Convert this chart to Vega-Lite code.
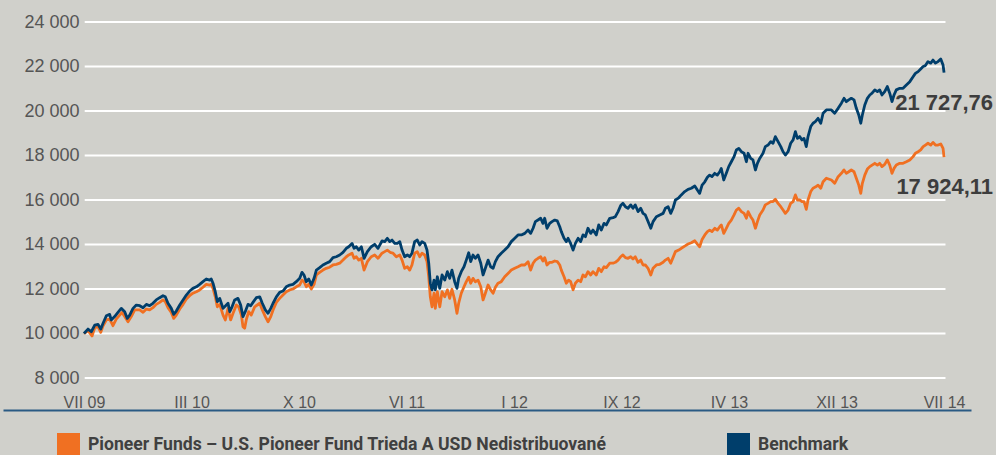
{
"$schema": "https://vega.github.io/schema/vega-lite/v6.json",
"width": 968, "height": 388,
"autosize": {"type": "none"},
"padding": {"left": 3, "top": 22, "right": 25, "bottom": 45},
"background": "#d0d0cb",
"config": {"view": {"stroke": null}, "font": "Liberation Sans"},
"datasets": {
"grid": [{"g":8000},{"g":10000},{"g":12000},{"g":14000},{"g":16000},{"g":18000},{"g":20000},{"g":22000},{"g":24000}],
"lines": [
{"m":0,"v":10000,"s":"F"},{"m":0.28,"v":10130,"s":"F"},{"m":0.56,"v":9890,"s":"F"},{"m":0.75,"v":10260,"s":"F"},{"m":0.98,"v":10310,"s":"F"},{"m":1.17,"v":10055,"s":"F"},{"m":1.33,"v":10350,"s":"F"},{"m":1.56,"v":10610,"s":"F"},{"m":1.79,"v":10650,"s":"F"},{"m":2.02,"v":10350,"s":"F"},{"m":2.25,"v":10650,"s":"F"},{"m":2.49,"v":10830,"s":"F"},{"m":2.65,"v":10950,"s":"F"},{"m":2.84,"v":10760,"s":"F"},{"m":3.07,"v":10530,"s":"F"},{"m":3.30,"v":10760,"s":"F"},{"m":3.54,"v":11060,"s":"F"},{"m":3.89,"v":11060,"s":"F"},{"m":4.12,"v":10950,"s":"F"},{"m":4.35,"v":11100,"s":"F"},{"m":4.58,"v":11060,"s":"F"},{"m":4.81,"v":11160,"s":"F"},{"m":5.04,"v":11310,"s":"F"},{"m":5.28,"v":11400,"s":"F"},{"m":5.51,"v":11510,"s":"F"},{"m":5.67,"v":11430,"s":"F"},{"m":5.86,"v":11160,"s":"F"},{"m":6.09,"v":10950,"s":"F"},{"m":6.26,"v":10680,"s":"F"},{"m":6.44,"v":10830,"s":"F"},{"m":6.68,"v":11100,"s":"F"},{"m":6.91,"v":11310,"s":"F"},{"m":7.14,"v":11550,"s":"F"},{"m":7.37,"v":11700,"s":"F"},{"m":7.60,"v":11810,"s":"F"},{"m":7.84,"v":11880,"s":"F"},{"m":8.07,"v":11960,"s":"F"},{"m":8.30,"v":12080,"s":"F"},{"m":8.53,"v":12210,"s":"F"},{"m":8.77,"v":12180,"s":"F"},{"m":8.88,"v":12210,"s":"F"},{"m":9.00,"v":12030,"s":"F"},{"m":9.16,"v":11650,"s":"F"},{"m":9.30,"v":11200,"s":"F"},{"m":9.47,"v":11310,"s":"F"},{"m":9.70,"v":10830,"s":"F"},{"m":9.86,"v":10610,"s":"F"},
{"m":10.05,"v":11130,"s":"F"},{"m":10.23,"v":10610,"s":"F"},{"m":10.40,"v":10910,"s":"F"},{"m":10.63,"v":11280,"s":"F"},{"m":10.79,"v":11200,"s":"F"},{"m":10.98,"v":10830,"s":"F"},{"m":11.09,"v":10310,"s":"F"},{"m":11.21,"v":10240,"s":"F"},{"m":11.32,"v":10610,"s":"F"},{"m":11.49,"v":10980,"s":"F"},{"m":11.67,"v":10830,"s":"F"},{"m":11.91,"v":11200,"s":"F"},{"m":12.26,"v":11360,"s":"F"},{"m":12.44,"v":11060,"s":"F"},{"m":12.65,"v":10760,"s":"F"},{"m":12.84,"v":10530,"s":"F"},{"m":13.03,"v":10760,"s":"F"},{"m":13.19,"v":11060,"s":"F"},{"m":13.42,"v":11400,"s":"F"},{"m":13.65,"v":11580,"s":"F"},{"m":13.88,"v":11730,"s":"F"},{"m":14.11,"v":11880,"s":"F"},{"m":14.35,"v":11960,"s":"F"},{"m":14.58,"v":12000,"s":"F"},{"m":14.81,"v":12100,"s":"F"},{"m":15.05,"v":12180,"s":"F"},{"m":15.21,"v":12400,"s":"F"},{"m":15.35,"v":12330,"s":"F"},{"m":15.51,"v":12100,"s":"F"},{"m":15.68,"v":12210,"s":"F"},{"m":15.86,"v":12000,"s":"F"},{"m":16.05,"v":12210,"s":"F"},{"m":16.21,"v":12630,"s":"F"},{"m":16.44,"v":12750,"s":"F"},{"m":16.67,"v":12850,"s":"F"},{"m":16.90,"v":12930,"s":"F"},{"m":17.14,"v":12980,"s":"F"},{"m":17.37,"v":13080,"s":"F"},{"m":17.60,"v":13110,"s":"F"},{"m":17.84,"v":13160,"s":"F"},{"m":18.07,"v":13300,"s":"F"},{"m":18.30,"v":13450,"s":"F"},{"m":18.47,"v":13530,"s":"F"},{"m":18.70,"v":13610,"s":"F"},{"m":18.84,"v":13380,"s":"F"},{"m":19.00,"v":13450,"s":"F"},{"m":19.17,"v":13300,"s":"F"},{"m":19.35,"v":13380,"s":"F"},{"m":19.54,"v":12850,"s":"F"},{"m":19.77,"v":13230,"s":"F"},{"m":20.04,"v":13450,"s":"F"},{"m":20.28,"v":13530,"s":"F"},{"m":20.51,"v":13380,"s":"F"},{"m":20.79,"v":13610,"s":"F"},
{"m":20.98,"v":13680,"s":"F"},{"m":21.16,"v":13750,"s":"F"},{"m":21.40,"v":13630,"s":"F"},{"m":21.56,"v":13610,"s":"F"},{"m":21.79,"v":13450,"s":"F"},{"m":22.03,"v":13530,"s":"F"},{"m":22.19,"v":13300,"s":"F"},{"m":22.37,"v":12930,"s":"F"},{"m":22.56,"v":13000,"s":"F"},{"m":22.72,"v":12850,"s":"F"},{"m":22.88,"v":13080,"s":"F"},{"m":23.07,"v":13610,"s":"F"},{"m":23.25,"v":13680,"s":"F"},{"m":23.42,"v":13450,"s":"F"},{"m":23.58,"v":13610,"s":"F"},{"m":23.77,"v":13530,"s":"F"},{"m":23.93,"v":13230,"s":"F"},{"m":24.05,"v":12550,"s":"F"},{"m":24.16,"v":11650,"s":"F"},{"m":24.28,"v":11200,"s":"F"},{"m":24.42,"v":11810,"s":"F"},{"m":24.51,"v":11130,"s":"F"},{"m":24.65,"v":11880,"s":"F"},{"m":24.82,"v":11200,"s":"F"},{"m":24.98,"v":11880,"s":"F"},{"m":25.17,"v":11650,"s":"F"},{"m":25.35,"v":11960,"s":"F"},{"m":25.51,"v":11580,"s":"F"},{"m":25.67,"v":11990,"s":"F"},{"m":25.86,"v":11510,"s":"F"},{"m":26.02,"v":10910,"s":"F"},{"m":26.14,"v":11360,"s":"F"},{"m":26.32,"v":11810,"s":"F"},{"m":26.51,"v":12100,"s":"F"},{"m":26.67,"v":12330,"s":"F"},{"m":26.84,"v":12530,"s":"F"},{"m":26.98,"v":12260,"s":"F"},{"m":27.14,"v":12480,"s":"F"},{"m":27.30,"v":12330,"s":"F"},{"m":27.49,"v":12400,"s":"F"},{"m":27.68,"v":12100,"s":"F"},{"m":27.84,"v":11510,"s":"F"},{"m":28.00,"v":11810,"s":"F"},{"m":28.19,"v":12180,"s":"F"},{"m":28.37,"v":11960,"s":"F"},{"m":28.54,"v":11810,"s":"F"},{"m":28.70,"v":12080,"s":"F"},{"m":28.88,"v":12260,"s":"F"},{"m":29.11,"v":12330,"s":"F"},{"m":29.35,"v":12550,"s":"F"},{"m":29.58,"v":12700,"s":"F"},{"m":29.81,"v":12850,"s":"F"},{"m":30.05,"v":12930,"s":"F"},{"m":30.28,"v":13000,"s":"F"},{"m":30.51,"v":13080,"s":"F"},{"m":30.75,"v":13080,"s":"F"},
{"m":30.98,"v":13230,"s":"F"},{"m":31.16,"v":12850,"s":"F"},{"m":31.33,"v":13160,"s":"F"},{"m":31.49,"v":13300,"s":"F"},{"m":31.67,"v":13380,"s":"F"},{"m":31.86,"v":13450,"s":"F"},{"m":32.02,"v":13260,"s":"F"},{"m":32.14,"v":13410,"s":"F"},{"m":32.30,"v":13080,"s":"F"},{"m":32.49,"v":13200,"s":"F"},{"m":32.65,"v":13200,"s":"F"},{"m":32.84,"v":13260,"s":"F"},{"m":33.02,"v":13230,"s":"F"},{"m":33.19,"v":13080,"s":"F"},{"m":33.30,"v":12850,"s":"F"},{"m":33.49,"v":12550,"s":"F"},{"m":33.65,"v":12260,"s":"F"},{"m":33.81,"v":12400,"s":"F"},{"m":33.95,"v":12330,"s":"F"},{"m":34.12,"v":11960,"s":"F"},{"m":34.28,"v":12260,"s":"F"},{"m":34.47,"v":12400,"s":"F"},{"m":34.65,"v":12330,"s":"F"},{"m":34.81,"v":12630,"s":"F"},{"m":34.98,"v":12550,"s":"F"},{"m":35.16,"v":12780,"s":"F"},{"m":35.35,"v":12630,"s":"F"},{"m":35.51,"v":12780,"s":"F"},{"m":35.74,"v":12630,"s":"F"},{"m":35.91,"v":12930,"s":"F"},{"m":36.09,"v":12780,"s":"F"},{"m":36.28,"v":13000,"s":"F"},{"m":36.44,"v":12960,"s":"F"},{"m":36.68,"v":13160,"s":"F"},{"m":36.91,"v":13160,"s":"F"},{"m":37.07,"v":13200,"s":"F"},{"m":37.26,"v":13300,"s":"F"},{"m":37.44,"v":13450,"s":"F"},{"m":37.60,"v":13530,"s":"F"},{"m":37.77,"v":13410,"s":"F"},{"m":37.95,"v":13380,"s":"F"},{"m":38.14,"v":13450,"s":"F"},{"m":38.30,"v":13350,"s":"F"},{"m":38.46,"v":13450,"s":"F"},{"m":38.65,"v":13200,"s":"F"},{"m":38.84,"v":13300,"s":"F"},{"m":39.00,"v":13080,"s":"F"},{"m":39.16,"v":13080,"s":"F"},{"m":39.35,"v":12930,"s":"F"},{"m":39.54,"v":12630,"s":"F"},{"m":39.70,"v":12930,"s":"F"},{"m":39.93,"v":13080,"s":"F"},{"m":40.17,"v":13110,"s":"F"},{"m":40.40,"v":13200,"s":"F"},{"m":40.56,"v":13300,"s":"F"},{"m":40.75,"v":13380,"s":"F"},{"m":40.93,"v":13160,"s":"F"},{"m":41.09,"v":13410,"s":"F"},{"m":41.26,"v":13680,"s":"F"},{"m":41.49,"v":13750,"s":"F"},
{"m":41.67,"v":13830,"s":"F"},{"m":41.91,"v":13930,"s":"F"},{"m":42.14,"v":14020,"s":"F"},{"m":42.37,"v":14080,"s":"F"},{"m":42.61,"v":14170,"s":"F"},{"m":42.79,"v":14020,"s":"F"},{"m":42.95,"v":13900,"s":"F"},{"m":43.12,"v":14230,"s":"F"},{"m":43.31,"v":14430,"s":"F"},{"m":43.49,"v":14580,"s":"F"},{"m":43.65,"v":14650,"s":"F"},{"m":43.81,"v":14580,"s":"F"},{"m":44.00,"v":14730,"s":"F"},{"m":44.18,"v":14650,"s":"F"},{"m":44.35,"v":14800,"s":"F"},{"m":44.46,"v":14880,"s":"F"},{"m":44.63,"v":14500,"s":"F"},{"m":44.81,"v":14730,"s":"F"},{"m":44.98,"v":14950,"s":"F"},{"m":45.16,"v":15100,"s":"F"},{"m":45.35,"v":15330,"s":"F"},{"m":45.51,"v":15550,"s":"F"},{"m":45.68,"v":15630,"s":"F"},{"m":45.86,"v":15480,"s":"F"},{"m":46.05,"v":15400,"s":"F"},{"m":46.21,"v":15180,"s":"F"},{"m":46.33,"v":15480,"s":"F"},{"m":46.51,"v":15250,"s":"F"},{"m":46.67,"v":15100,"s":"F"},{"m":46.84,"v":14730,"s":"F"},{"m":46.98,"v":15030,"s":"F"},{"m":47.14,"v":15330,"s":"F"},{"m":47.37,"v":15550,"s":"F"},{"m":47.53,"v":15780,"s":"F"},{"m":47.72,"v":15850,"s":"F"},{"m":47.91,"v":15930,"s":"F"},{"m":48.07,"v":15930,"s":"F"},{"m":48.23,"v":16030,"s":"F"},{"m":48.42,"v":15850,"s":"F"},{"m":48.61,"v":15700,"s":"F"},{"m":48.77,"v":15550,"s":"F"},{"m":48.93,"v":15400,"s":"F"},{"m":49.12,"v":15550,"s":"F"},{"m":49.30,"v":15850,"s":"F"},{"m":49.47,"v":15930,"s":"F"},{"m":49.63,"v":16230,"s":"F"},{"m":49.77,"v":16000,"s":"F"},{"m":49.93,"v":16000,"s":"F"},{"m":50.09,"v":15930,"s":"F"},{"m":50.23,"v":15930,"s":"F"},{"m":50.39,"v":15580,"s":"F"},{"m":50.51,"v":16000,"s":"F"},{"m":50.70,"v":16380,"s":"F"},{"m":50.86,"v":16530,"s":"F"},{"m":51.02,"v":16580,"s":"F"},{"m":51.21,"v":16670,"s":"F"},{"m":51.40,"v":16530,"s":"F"},{"m":51.56,"v":16820,"s":"F"},{"m":51.79,"v":16980,"s":"F"},
{"m":52.14,"v":16900,"s":"F"},{"m":52.37,"v":16750,"s":"F"},{"m":52.61,"v":17050,"s":"F"},{"m":52.84,"v":17200,"s":"F"},{"m":53.02,"v":17350,"s":"F"},{"m":53.18,"v":17200,"s":"F"},{"m":53.35,"v":17270,"s":"F"},{"m":53.53,"v":17350,"s":"F"},{"m":53.72,"v":17270,"s":"F"},{"m":53.88,"v":16980,"s":"F"},{"m":54.05,"v":16670,"s":"F"},{"m":54.19,"v":16300,"s":"F"},{"m":54.30,"v":16750,"s":"F"},{"m":54.47,"v":17120,"s":"F"},{"m":54.65,"v":17390,"s":"F"},{"m":54.82,"v":17500,"s":"F"},{"m":54.98,"v":17570,"s":"F"},{"m":55.17,"v":17650,"s":"F"},{"m":55.35,"v":17570,"s":"F"},{"m":55.51,"v":17650,"s":"F"},{"m":55.67,"v":17500,"s":"F"},{"m":55.86,"v":17600,"s":"F"},{"m":56.04,"v":17800,"s":"F"},{"m":56.21,"v":17570,"s":"F"},{"m":56.37,"v":17200,"s":"F"},{"m":56.51,"v":17420,"s":"F"},{"m":56.67,"v":17570,"s":"F"},{"m":56.91,"v":17650,"s":"F"},{"m":57.14,"v":17650,"s":"F"},{"m":57.37,"v":17720,"s":"F"},{"m":57.61,"v":17800,"s":"F"},{"m":57.84,"v":17950,"s":"F"},{"m":58.00,"v":18100,"s":"F"},{"m":58.19,"v":18170,"s":"F"},{"m":58.37,"v":18250,"s":"F"},{"m":58.54,"v":18400,"s":"F"},{"m":58.70,"v":18470,"s":"F"},{"m":58.88,"v":18550,"s":"F"},{"m":59.07,"v":18470,"s":"F"},{"m":59.23,"v":18590,"s":"F"},{"m":59.40,"v":18470,"s":"F"},{"m":59.58,"v":18470,"s":"F"},{"m":59.77,"v":18520,"s":"F"},{"m":59.93,"v":18320,"s":"F"},{"m":60,"v":17924.11,"s":"F"},
{"m":0,"v":10000,"s":"B"},{"m":0.28,"v":10200,"s":"B"},{"m":0.51,"v":10080,"s":"B"},{"m":0.75,"v":10380,"s":"B"},{"m":0.98,"v":10410,"s":"B"},{"m":1.17,"v":10200,"s":"B"},{"m":1.33,"v":10460,"s":"B"},{"m":1.56,"v":10800,"s":"B"},{"m":1.79,"v":10860,"s":"B"},{"m":1.90,"v":10610,"s":"B"},{"m":2.14,"v":10760,"s":"B"},{"m":2.37,"v":10950,"s":"B"},{"m":2.60,"v":11130,"s":"B"},{"m":2.84,"v":10980,"s":"B"},{"m":3.02,"v":10680,"s":"B"},{"m":3.19,"v":10830,"s":"B"},{"m":3.42,"v":11130,"s":"B"},{"m":3.65,"v":11280,"s":"B"},{"m":3.89,"v":11250,"s":"B"},{"m":4.12,"v":11160,"s":"B"},{"m":4.35,"v":11310,"s":"B"},{"m":4.58,"v":11250,"s":"B"},{"m":4.81,"v":11360,"s":"B"},{"m":5.04,"v":11510,"s":"B"},{"m":5.28,"v":11610,"s":"B"},{"m":5.51,"v":11700,"s":"B"},{"m":5.67,"v":11650,"s":"B"},{"m":5.86,"v":11360,"s":"B"},{"m":6.09,"v":11130,"s":"B"},{"m":6.26,"v":10860,"s":"B"},{"m":6.44,"v":11010,"s":"B"},{"m":6.68,"v":11280,"s":"B"},{"m":6.91,"v":11510,"s":"B"},{"m":7.14,"v":11730,"s":"B"},{"m":7.37,"v":11910,"s":"B"},{"m":7.60,"v":12030,"s":"B"},{"m":7.84,"v":12100,"s":"B"},{"m":8.07,"v":12210,"s":"B"},{"m":8.30,"v":12330,"s":"B"},{"m":8.53,"v":12450,"s":"B"},{"m":8.77,"v":12400,"s":"B"},{"m":8.88,"v":12450,"s":"B"},{"m":9.00,"v":12260,"s":"B"},{"m":9.16,"v":11880,"s":"B"},{"m":9.30,"v":11430,"s":"B"},{"m":9.47,"v":11580,"s":"B"},{"m":9.70,"v":11130,"s":"B"},{"m":9.93,"v":11280,"s":"B"},
{"m":10.05,"v":11360,"s":"B"},{"m":10.17,"v":10980,"s":"B"},{"m":10.33,"v":11200,"s":"B"},{"m":10.51,"v":11510,"s":"B"},{"m":10.74,"v":11580,"s":"B"},{"m":10.93,"v":11280,"s":"B"},{"m":11.09,"v":10760,"s":"B"},{"m":11.25,"v":10980,"s":"B"},{"m":11.44,"v":11310,"s":"B"},{"m":11.63,"v":11250,"s":"B"},{"m":11.79,"v":11400,"s":"B"},{"m":12.02,"v":11610,"s":"B"},{"m":12.26,"v":11650,"s":"B"},{"m":12.44,"v":11360,"s":"B"},{"m":12.65,"v":11060,"s":"B"},{"m":12.84,"v":10910,"s":"B"},{"m":13.03,"v":11130,"s":"B"},{"m":13.19,"v":11360,"s":"B"},{"m":13.42,"v":11650,"s":"B"},{"m":13.65,"v":11850,"s":"B"},{"m":13.88,"v":11910,"s":"B"},{"m":14.11,"v":12100,"s":"B"},{"m":14.35,"v":12180,"s":"B"},{"m":14.58,"v":12210,"s":"B"},{"m":14.81,"v":12330,"s":"B"},{"m":15.05,"v":12480,"s":"B"},{"m":15.21,"v":12750,"s":"B"},{"m":15.35,"v":12630,"s":"B"},{"m":15.51,"v":12330,"s":"B"},{"m":15.68,"v":12450,"s":"B"},{"m":15.86,"v":12180,"s":"B"},{"m":16.05,"v":12480,"s":"B"},{"m":16.21,"v":12850,"s":"B"},{"m":16.44,"v":12960,"s":"B"},{"m":16.67,"v":13080,"s":"B"},{"m":16.90,"v":13160,"s":"B"},{"m":17.14,"v":13230,"s":"B"},{"m":17.37,"v":13410,"s":"B"},{"m":17.60,"v":13450,"s":"B"},{"m":17.84,"v":13530,"s":"B"},{"m":18.07,"v":13650,"s":"B"},{"m":18.30,"v":13830,"s":"B"},{"m":18.47,"v":13900,"s":"B"},{"m":18.70,"v":14050,"s":"B"},{"m":18.84,"v":13830,"s":"B"},{"m":19.00,"v":13900,"s":"B"},{"m":19.17,"v":13750,"s":"B"},{"m":19.35,"v":13900,"s":"B"},{"m":19.54,"v":13380,"s":"B"},{"m":19.77,"v":13680,"s":"B"},{"m":20.04,"v":13900,"s":"B"},{"m":20.28,"v":14010,"s":"B"},{"m":20.51,"v":13830,"s":"B"},{"m":20.79,"v":14160,"s":"B"},
{"m":20.98,"v":14130,"s":"B"},{"m":21.16,"v":14280,"s":"B"},{"m":21.33,"v":14130,"s":"B"},{"m":21.49,"v":14200,"s":"B"},{"m":21.68,"v":14050,"s":"B"},{"m":21.86,"v":14050,"s":"B"},{"m":22.03,"v":14130,"s":"B"},{"m":22.19,"v":13750,"s":"B"},{"m":22.37,"v":13450,"s":"B"},{"m":22.56,"v":13530,"s":"B"},{"m":22.72,"v":13450,"s":"B"},{"m":22.88,"v":13610,"s":"B"},{"m":23.07,"v":14130,"s":"B"},{"m":23.25,"v":14200,"s":"B"},{"m":23.42,"v":13980,"s":"B"},{"m":23.58,"v":14130,"s":"B"},{"m":23.77,"v":14050,"s":"B"},{"m":23.93,"v":13750,"s":"B"},{"m":24.05,"v":13160,"s":"B"},{"m":24.16,"v":12260,"s":"B"},{"m":24.28,"v":11960,"s":"B"},{"m":24.42,"v":12400,"s":"B"},{"m":24.51,"v":11960,"s":"B"},{"m":24.65,"v":12550,"s":"B"},{"m":24.82,"v":12030,"s":"B"},{"m":24.98,"v":12630,"s":"B"},{"m":25.17,"v":12400,"s":"B"},{"m":25.35,"v":12780,"s":"B"},{"m":25.51,"v":12480,"s":"B"},{"m":25.67,"v":12850,"s":"B"},{"m":25.86,"v":12330,"s":"B"},{"m":26.02,"v":12030,"s":"B"},{"m":26.14,"v":12480,"s":"B"},{"m":26.32,"v":12780,"s":"B"},{"m":26.51,"v":13000,"s":"B"},{"m":26.67,"v":13300,"s":"B"},{"m":26.84,"v":13630,"s":"B"},{"m":26.98,"v":13230,"s":"B"},{"m":27.14,"v":13530,"s":"B"},{"m":27.30,"v":13380,"s":"B"},{"m":27.49,"v":13530,"s":"B"},{"m":27.68,"v":13160,"s":"B"},{"m":27.84,"v":12630,"s":"B"},{"m":28.00,"v":12930,"s":"B"},{"m":28.19,"v":13300,"s":"B"},{"m":28.37,"v":13000,"s":"B"},{"m":28.54,"v":12930,"s":"B"},{"m":28.70,"v":13230,"s":"B"},{"m":28.88,"v":13450,"s":"B"},{"m":29.11,"v":13610,"s":"B"},{"m":29.35,"v":13750,"s":"B"},{"m":29.58,"v":13900,"s":"B"},{"m":29.81,"v":14130,"s":"B"},{"m":30.05,"v":14280,"s":"B"},{"m":30.28,"v":14430,"s":"B"},{"m":30.51,"v":14430,"s":"B"},{"m":30.75,"v":14500,"s":"B"},
{"m":30.98,"v":14650,"s":"B"},{"m":31.16,"v":14500,"s":"B"},{"m":31.33,"v":14730,"s":"B"},{"m":31.49,"v":15030,"s":"B"},{"m":31.67,"v":15100,"s":"B"},{"m":31.86,"v":15180,"s":"B"},{"m":32.02,"v":14950,"s":"B"},{"m":32.14,"v":15180,"s":"B"},{"m":32.30,"v":14730,"s":"B"},{"m":32.49,"v":14950,"s":"B"},{"m":32.65,"v":15030,"s":"B"},{"m":32.84,"v":15100,"s":"B"},{"m":33.02,"v":15060,"s":"B"},{"m":33.19,"v":14800,"s":"B"},{"m":33.30,"v":14580,"s":"B"},{"m":33.49,"v":14280,"s":"B"},{"m":33.65,"v":14130,"s":"B"},{"m":33.77,"v":14280,"s":"B"},{"m":33.95,"v":14050,"s":"B"},{"m":34.12,"v":13750,"s":"B"},{"m":34.28,"v":14050,"s":"B"},{"m":34.47,"v":14280,"s":"B"},{"m":34.65,"v":14130,"s":"B"},{"m":34.81,"v":14430,"s":"B"},{"m":34.98,"v":14350,"s":"B"},{"m":35.16,"v":14730,"s":"B"},{"m":35.35,"v":14500,"s":"B"},{"m":35.51,"v":14650,"s":"B"},{"m":35.74,"v":14430,"s":"B"},{"m":35.91,"v":14880,"s":"B"},{"m":36.09,"v":14650,"s":"B"},{"m":36.28,"v":14950,"s":"B"},{"m":36.44,"v":14880,"s":"B"},{"m":36.68,"v":15180,"s":"B"},{"m":36.91,"v":15210,"s":"B"},{"m":37.07,"v":15250,"s":"B"},{"m":37.26,"v":15480,"s":"B"},{"m":37.44,"v":15750,"s":"B"},{"m":37.60,"v":15850,"s":"B"},{"m":37.77,"v":15700,"s":"B"},{"m":37.95,"v":15630,"s":"B"},{"m":38.14,"v":15780,"s":"B"},{"m":38.30,"v":15630,"s":"B"},{"m":38.46,"v":15780,"s":"B"},{"m":38.65,"v":15480,"s":"B"},{"m":38.84,"v":15630,"s":"B"},{"m":39.00,"v":15400,"s":"B"},{"m":39.16,"v":15330,"s":"B"},{"m":39.35,"v":15030,"s":"B"},{"m":39.54,"v":14730,"s":"B"},{"m":39.70,"v":15030,"s":"B"},{"m":39.93,"v":15250,"s":"B"},{"m":40.17,"v":15330,"s":"B"},{"m":40.40,"v":15400,"s":"B"},{"m":40.56,"v":15630,"s":"B"},{"m":40.75,"v":15700,"s":"B"},{"m":40.93,"v":15400,"s":"B"},{"m":41.09,"v":15630,"s":"B"},{"m":41.26,"v":16000,"s":"B"},{"m":41.49,"v":16100,"s":"B"},
{"m":41.67,"v":16230,"s":"B"},{"m":41.91,"v":16380,"s":"B"},{"m":42.14,"v":16480,"s":"B"},{"m":42.37,"v":16530,"s":"B"},{"m":42.61,"v":16630,"s":"B"},{"m":42.79,"v":16450,"s":"B"},{"m":42.95,"v":16300,"s":"B"},{"m":43.12,"v":16670,"s":"B"},{"m":43.31,"v":16820,"s":"B"},{"m":43.49,"v":17020,"s":"B"},{"m":43.65,"v":17120,"s":"B"},{"m":43.81,"v":17050,"s":"B"},{"m":44.00,"v":17200,"s":"B"},{"m":44.18,"v":17120,"s":"B"},{"m":44.35,"v":17270,"s":"B"},{"m":44.46,"v":17420,"s":"B"},{"m":44.63,"v":16900,"s":"B"},{"m":44.81,"v":17200,"s":"B"},{"m":44.98,"v":17500,"s":"B"},{"m":45.16,"v":17720,"s":"B"},{"m":45.35,"v":17950,"s":"B"},{"m":45.51,"v":18250,"s":"B"},{"m":45.68,"v":18320,"s":"B"},{"m":45.86,"v":18170,"s":"B"},{"m":46.05,"v":18100,"s":"B"},{"m":46.21,"v":17720,"s":"B"},{"m":46.33,"v":18100,"s":"B"},{"m":46.51,"v":17870,"s":"B"},{"m":46.67,"v":17800,"s":"B"},{"m":46.84,"v":17350,"s":"B"},{"m":46.98,"v":17650,"s":"B"},{"m":47.14,"v":17870,"s":"B"},{"m":47.37,"v":18100,"s":"B"},{"m":47.53,"v":18400,"s":"B"},{"m":47.72,"v":18470,"s":"B"},{"m":47.91,"v":18620,"s":"B"},{"m":48.07,"v":18550,"s":"B"},{"m":48.23,"v":18850,"s":"B"},{"m":48.42,"v":18620,"s":"B"},{"m":48.61,"v":18400,"s":"B"},{"m":48.77,"v":18170,"s":"B"},{"m":48.93,"v":18020,"s":"B"},{"m":49.12,"v":18170,"s":"B"},{"m":49.30,"v":18550,"s":"B"},{"m":49.47,"v":18700,"s":"B"},{"m":49.63,"v":19070,"s":"B"},{"m":49.77,"v":18770,"s":"B"},{"m":49.93,"v":18850,"s":"B"},{"m":50.09,"v":18700,"s":"B"},{"m":50.23,"v":18770,"s":"B"},{"m":50.39,"v":18400,"s":"B"},{"m":50.51,"v":18850,"s":"B"},{"m":50.70,"v":19300,"s":"B"},{"m":50.86,"v":19450,"s":"B"},{"m":51.02,"v":19520,"s":"B"},{"m":51.21,"v":19670,"s":"B"},{"m":51.40,"v":19450,"s":"B"},{"m":51.56,"v":19900,"s":"B"},{"m":51.79,"v":20050,"s":"B"},
{"m":52.14,"v":20050,"s":"B"},{"m":52.37,"v":19900,"s":"B"},{"m":52.61,"v":20120,"s":"B"},{"m":52.84,"v":20350,"s":"B"},{"m":53.02,"v":20570,"s":"B"},{"m":53.18,"v":20420,"s":"B"},{"m":53.35,"v":20500,"s":"B"},{"m":53.53,"v":20570,"s":"B"},{"m":53.72,"v":20500,"s":"B"},{"m":53.88,"v":20120,"s":"B"},{"m":54.05,"v":19820,"s":"B"},{"m":54.19,"v":19450,"s":"B"},{"m":54.30,"v":19820,"s":"B"},{"m":54.47,"v":20270,"s":"B"},{"m":54.65,"v":20570,"s":"B"},{"m":54.82,"v":20720,"s":"B"},{"m":54.98,"v":20800,"s":"B"},{"m":55.17,"v":20950,"s":"B"},{"m":55.35,"v":20870,"s":"B"},{"m":55.51,"v":20950,"s":"B"},{"m":55.67,"v":20720,"s":"B"},{"m":55.86,"v":20870,"s":"B"},{"m":56.04,"v":21100,"s":"B"},{"m":56.21,"v":20800,"s":"B"},{"m":56.37,"v":20420,"s":"B"},{"m":56.51,"v":20720,"s":"B"},{"m":56.67,"v":20950,"s":"B"},{"m":56.91,"v":21020,"s":"B"},{"m":57.14,"v":21020,"s":"B"},{"m":57.37,"v":21170,"s":"B"},{"m":57.61,"v":21320,"s":"B"},{"m":57.84,"v":21540,"s":"B"},{"m":58.00,"v":21690,"s":"B"},{"m":58.19,"v":21770,"s":"B"},{"m":58.37,"v":21890,"s":"B"},{"m":58.54,"v":22000,"s":"B"},{"m":58.70,"v":22040,"s":"B"},{"m":58.88,"v":22220,"s":"B"},{"m":59.07,"v":22150,"s":"B"},{"m":59.23,"v":22290,"s":"B"},{"m":59.40,"v":22150,"s":"B"},{"m":59.58,"v":22220,"s":"B"},{"m":59.77,"v":22340,"s":"B"},{"m":59.93,"v":22070,"s":"B"},{"m":60,"v":21727.76,"s":"B"}
]
},
"layer": [
{
"data": {"name": "grid"},
"mark": {"type": "rule", "color": "#ffffff", "strokeWidth": 2},
"encoding": {
"x": {"datum": 0.05, "type": "quantitative", "scale": {"domain": [-5.65, 61.88], "nice": false, "zero": false}},
"x2": {"datum": 60.1},
"y": {"field": "g", "type": "quantitative", "scale": {"domain": [6563, 24000], "nice": false, "zero": false}}
}
},
{
"data": {"name": "lines"},
"mark": {"type": "line", "strokeWidth": 2.8, "strokeJoin": "round"},
"encoding": {
"x": {"field": "m", "type": "quantitative",
"axis": {"values": [0, 7.5, 15, 22.5, 30, 37.5, 45, 52.5, 60], "labelExpr": "['VII 09','III 10','X 10','VI 11','I 12','IX 12','IV 13','XII 13','VII 14'][round(datum.value/7.5)]", "title": null, "grid": false, "ticks": false, "domain": true, "domainColor": "#2a5a84", "domainWidth": 2, "labelPadding": -3, "labelBaseline": "alphabetic", "labelFont": "Liberation Sans", "labelFontSize": 16, "labelColor": "#555555", "labelFlush": false, "labelOverlap": false}},
"y": {"field": "v", "type": "quantitative",
"axis": {"values": [8000, 10000, 12000, 14000, 16000, 18000, 20000, 22000, 24000], "labelExpr": "replace(format(datum.value, ','), ',', ' ')", "title": null, "grid": false, "ticks": false, "domain": false, "offset": -81, "labelPadding": 5, "labelFont": "Liberation Sans", "labelFontSize": 18, "labelColor": "#555555"}},
"color": {"field": "s", "type": "nominal", "scale": {"domain": ["F", "B"], "range": ["#f07022", "#003e6b"]},
"legend": {"orient": "none", "legendX": 54, "legendY": 411, "direction": "horizontal", "title": null, "symbolType": "square", "symbolSize": 529, "symbolStrokeWidth": 0, "labelExpr": "datum.value == 'F' ? 'Pioneer Funds – U.S. Pioneer Fund Trieda A USD Nedistribuované' : 'Benchmark'", "labelFont": "Roboto", "labelFontSize": 17.6, "labelFontWeight": "bold", "labelColor": "#404040", "labelLimit": 800, "labelOffset": 8, "columnPadding": 120,
"encode": {"symbols": {"update": {"fill": {"scale": "color", "field": "value"}, "fillOpacity": {"value": 1}}}}}}
}
},
{
"data": {"values": [{"m": 60, "v": 21727.76, "t": "21 727,76"}, {"m": 60, "v": 17924.11, "t": "17 924,11"}]},
"mark": {"type": "text", "align": "right", "baseline": "middle", "dx": 49, "dy": 30, "font": "Liberation Sans", "fontWeight": "bold", "fontSize": 22, "color": "#3d3d3d"},
"encoding": {
"x": {"field": "m", "type": "quantitative"},
"y": {"field": "v", "type": "quantitative"},
"text": {"field": "t"}
}
}
]
}
